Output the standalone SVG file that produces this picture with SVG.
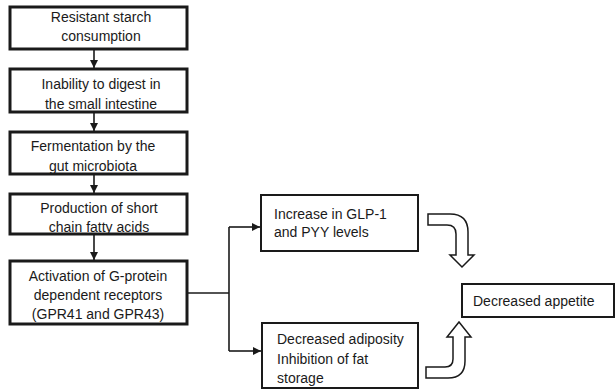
<svg xmlns="http://www.w3.org/2000/svg" width="615" height="392" viewBox="0 0 615 392">
<style>
.bx{fill:#fff;stroke:#1a1a1a;stroke-width:3}
.bx2{fill:#fff;stroke:#1a1a1a;stroke-width:2}
.t{font-family:"Liberation Sans",Arial,sans-serif;font-size:14px;fill:#1a1a1a}
.c{text-anchor:middle}
.ln{fill:none;stroke:#1a1a1a;stroke-width:1.6}
.ua{fill:#fff;stroke:#1a1a1a;stroke-width:1.5}
</style>
<defs>
<marker id="ah" viewBox="0 0 8 8" refX="8" refY="4" markerWidth="8" markerHeight="8" markerUnits="userSpaceOnUse" orient="auto">
<path d="M0,0 L8,4 L0,8 Z" fill="#1a1a1a"/>
</marker>
</defs>
<rect width="615" height="392" fill="#fff"/>
<g id="n1"><rect class="bx" x="10" y="7" width="177" height="42"/>
<text class="t c" x="101" y="22">Resistant starch</text><text class="t c" x="101" y="41">consumption</text></g>
<g id="n2"><rect class="bx" x="10" y="69" width="177" height="43"/>
<text class="t c" x="101" y="89">Inability to digest in</text><text class="t c" x="101" y="109">the small intestine</text></g>
<g id="n3"><rect class="bx" x="10" y="132" width="177" height="42"/>
<text class="t c" x="93" y="151">Fermentation by the</text><text class="t c" x="93" y="171">gut microbiota</text></g>
<g id="n4"><rect class="bx" x="10" y="194" width="177" height="40"/>
<text class="t c" x="99" y="213">Production of short</text><text class="t c" x="99" y="232">chain fatty acids</text></g>
<g id="n5"><rect class="bx" x="10" y="261" width="177" height="63"/>
<text class="t c" x="98" y="281">Activation of G-protein</text><text class="t c" x="98" y="300">dependent receptors</text><text class="t c" x="98" y="319">(GPR41 and GPR43)</text></g>
<g id="n6"><rect class="bx2" x="261" y="195" width="157" height="56"/>
<text class="t" x="274" y="219">Increase in GLP-1</text><text class="t" x="274" y="237">and PYY levels</text></g>
<g id="n7"><rect class="bx2" x="262" y="323" width="156" height="65"/>
<text class="t" x="277" y="344">Decreased adiposity</text><text class="t" x="277" y="364">Inhibition of fat</text><text class="t" x="277" y="383">storage</text></g>
<g id="n8"><rect class="bx2" x="462" y="284" width="152" height="33"/>
<text class="t" x="473" y="306">Decreased appetite</text></g>
<g id="connectors">
<line class="ln" x1="94" y1="49" x2="94" y2="68" marker-end="url(#ah)"/>
<line class="ln" x1="94" y1="112" x2="94" y2="131" marker-end="url(#ah)"/>
<line class="ln" x1="94" y1="174" x2="94" y2="193" marker-end="url(#ah)"/>
<line class="ln" x1="94" y1="234" x2="94" y2="260" marker-end="url(#ah)"/>
<path class="ln" d="M187,293 H229"/>
<path class="ln" d="M229,227 V351"/>
<line class="ln" x1="229" y1="227" x2="260" y2="227" marker-end="url(#ah)"/>
<line class="ln" x1="229" y1="351" x2="261" y2="351" marker-end="url(#ah)"/>
<path class="ua" d="M428,214 L450,214 Q468,214 468,232 L468,255 L474,255 L462,267 L450,255 L456,255 L456,234 Q456,225 447,225 L428,225 Z"/>
<path class="ua" d="M426,378 L448,378 Q465,378 465,361 L465,337 L471,337 L459,322 L447,337 L453,337 L453,359 Q453,367 445,367 L426,367 Z"/>
</g>
</svg>
